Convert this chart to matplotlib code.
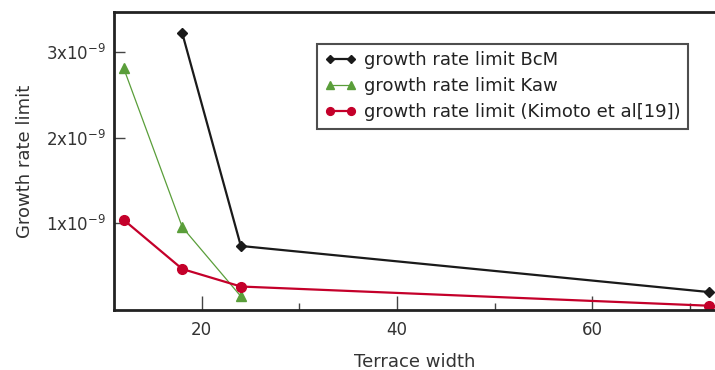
import matplotlib
matplotlib.use("Agg")
import matplotlib.pyplot as plt
from matplotlib.ticker import FixedLocator

# data
bcm_x = [18, 24, 72]
bcm_y = [3.22e-9, 0.73e-9, 0.19e-9]
kaw_x = [12, 18, 24]
kaw_y = [2.81e-9, 0.95e-9, 0.14e-9]
kim_x = [12, 18, 24, 72]
kim_y = [1.035e-9, 0.46e-9, 0.255e-9, 0.03e-9]

y_ticks = [1e-9, 2e-9, 3e-9]
y_tick_labels = [r"1x10$^{-9}$", r"2x10$^{-9}$", r"3x10$^{-9}$"]
x_ticks = [20, 40, 60]
x_minor = [30, 50, 70]

plt.rcParams["font.family"] = ["DejaVu Sans"]
text_col = "#333333"

fig = plt.figure(figsize=(7.15, 3.7), dpi=100)
ax = fig.add_axes([114 / 715, 1 - 310 / 370, 1 - 114 / 715, (310 - 12) / 370])

ax.plot(bcm_x, bcm_y, color="#1a1a1a", lw=1.6, marker="D", ms=5,
        label="growth rate limit BcM")
ax.plot(kaw_x, kaw_y, color="#5a9e3a", lw=0.9, marker="^", ms=7,
        label="growth rate limit Kaw")
ax.plot(kim_x, kim_y, color="#c4002a", lw=1.6, marker="o", ms=7,
        label="growth rate limit (Kimoto et al[19])")

ax.set_xlim(11, 72.6)
ax.set_ylim(-0.02e-9, 3.47e-9)

ax.set_xticks(x_ticks)
ax.xaxis.set_minor_locator(FixedLocator(x_minor))
ax.set_yticks(y_ticks)
ax.set_yticklabels(y_tick_labels)

ax.tick_params(axis="x", which="major", direction="in", length=10, width=1,
               labelsize=12, colors="#444444", labelcolor=text_col, pad=8)
ax.tick_params(axis="x", which="minor", direction="in", length=5, width=1,
               colors="#444444")
ax.tick_params(axis="y", which="major", direction="in", length=8, width=1,
               labelsize=12, colors="#444444", labelcolor=text_col, pad=6)

for side in ("left", "bottom", "top"):
    ax.spines[side].set_linewidth(2)
    ax.spines[side].set_color("#222222")
ax.spines["right"].set_visible(False)

ax.set_xlabel("Terrace width", fontsize=13, color=text_col, labelpad=10)
ax.set_ylabel("Growth rate limit", fontsize=13, color=text_col, labelpad=8)

leg = ax.legend(loc="upper left", bbox_to_anchor=(317 / 715, 1 - 44 / 370),
                bbox_transform=fig.transFigure, fontsize=13, frameon=True,
                fancybox=False, edgecolor="#222222", handlelength=1.8,
                handletextpad=0.4, labelspacing=0.45, borderpad=0.4,
                borderaxespad=0, numpoints=2, markerscale=0.8)
leg.get_frame().set_linewidth(1.5)
for t in leg.get_texts():
    t.set_color("#222222")

fig.savefig("out.png", dpi=100)
